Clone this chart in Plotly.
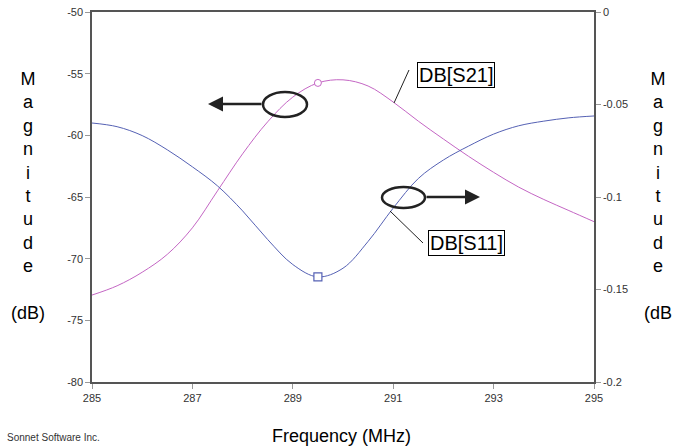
import plotly.graph_objects as go

freq = [285.0, 285.5, 286.0, 286.5, 287.0, 287.5, 288.0, 288.5, 289.0, 289.5, 290.0,
        290.5, 291.0, 291.5, 292.0, 292.5, 293.0, 293.5, 294.0, 294.5, 295.0]
s21_db = [-72.95, -72.2, -71.1, -69.65, -67.5, -64.5, -61.5, -58.9, -56.9, -55.75, -55.5,
          -56.0, -57.3, -58.85, -60.3, -61.7, -63.0, -64.2, -65.2, -66.1, -67.0]
s11_db = [-0.0600, -0.0620, -0.0668, -0.0745, -0.0837, -0.0940, -0.1075, -0.1230, -0.1365, -0.1432, -0.1385,
          -0.1240, -0.1060, -0.0900, -0.0800, -0.0725, -0.0660, -0.0615, -0.0590, -0.0572, -0.0562]
marker_freq = [289.5]
s21_marker = [-55.75]
s11_marker = [-0.1432]

x_ticks = [285, 287, 289, 291, 293, 295]
y1_ticks = [-50, -55, -60, -65, -70, -75, -80]
y1_text = ["-50", "-55", "-60", "-65", "-70", "-75", "-80"]
y2_ticks = [0, -0.05, -0.1, -0.15, -0.2]
y2_text = ["0", "-0.05", "-0.1", "-0.15", "-0.2"]

PINK = "#c466c4"
BLUE = "#5561b4"
FONT = "Arial, Liberation Sans, sans-serif"

# plot-area geometry (pixels) for placing decorations
L, R, T, B = 92, 594, 12, 382
def px(xp):
    return 285 + (xp - L) / (R - L) * 10
def py(yp):
    return -50 - (yp - T) / (B - T) * 30
def dx(xp):
    return (xp - L) / (R - L)
def dy(yp):
    return (B - yp) / (B - T)

fig = go.Figure()
fig.add_trace(go.Scatter(x=freq, y=s21_db, mode="lines", line=dict(color=PINK, width=1, shape="spline"),
                         showlegend=False, yaxis="y"))
fig.add_trace(go.Scatter(x=freq, y=s11_db, mode="lines", line=dict(color=BLUE, width=1, shape="spline"),
                         showlegend=False, yaxis="y2"))
fig.add_trace(go.Scatter(x=marker_freq, y=s21_marker, mode="markers",
                         marker=dict(symbol="circle", size=7, color="white", line=dict(color=PINK, width=1)),
                         showlegend=False, yaxis="y"))
fig.add_trace(go.Scatter(x=marker_freq, y=s11_marker, mode="markers",
                         marker=dict(symbol="square", size=8, color="white", line=dict(color=BLUE, width=1.2)),
                         showlegend=False, yaxis="y2"))

shapes = []
# ellipses
shapes.append(dict(type="circle", xref="x", yref="y", x0=px(263), x1=px(307), y0=py(92), y1=py(117),
                   line=dict(color="#222", width=2.5)))
shapes.append(dict(type="circle", xref="x", yref="y", x0=px(382), x1=px(425), y0=py(187), y1=py(208),
                   line=dict(color="#222", width=2.5)))
# leader lines
shapes.append(dict(type="line", xref="x", yref="y", x0=px(394), y0=py(103), x1=px(409), y1=py(70),
                   line=dict(color="#222", width=1)))
shapes.append(dict(type="line", xref="x", yref="y", x0=px(390), y0=py(211), x1=px(423), y1=py(243),
                   line=dict(color="#222", width=1)))

vert = "M<br>a<br>g<br>n<br>i<br>t<br>u<br>d<br>e<br><br>"
annotations = [
    dict(x=px(456), y=py(75), xref="x", yref="y", text="DB[S21]", showarrow=False,
         font=dict(family=FONT, size=20, color="black"), bordercolor="black", borderwidth=1,
         borderpad=1, bgcolor="white"),
    dict(x=px(466), y=py(243), xref="x", yref="y", text="DB[S11]", showarrow=False,
         font=dict(family=FONT, size=20, color="black"), bordercolor="black", borderwidth=1,
         borderpad=1, bgcolor="white"),
    # arrows
    dict(x=px(208), y=py(104), xref="x", yref="y", ax=px(263), ay=py(104), axref="x", ayref="y",
         text="", showarrow=True, arrowhead=2, arrowsize=1.2, arrowwidth=2.5, arrowcolor="#222"),
    dict(x=px(480), y=py(197), xref="x", yref="y", ax=px(425), ay=py(197), axref="x", ayref="y",
         text="", showarrow=True, arrowhead=2, arrowsize=1.2, arrowwidth=2.5, arrowcolor="#222"),
    dict(x=dx(28), y=dy(196), xref="x domain", yref="y domain", text=vert + "(dB)", showarrow=False,
         xanchor="center", yanchor="middle", align="center",
         font=dict(family=FONT, size=18, color="black")),
    dict(x=dx(658), y=dy(196), xref="x domain", yref="y domain", text=vert + "(dB", showarrow=False,
         xanchor="center", yanchor="middle", align="center",
         font=dict(family=FONT, size=18, color="black")),
    dict(x=dx(5), y=dy(437), xref="x domain", yref="y domain", text="Sonnet Software Inc.",
         showarrow=False, xanchor="left", yanchor="middle", font=dict(family=FONT, size=10, color="#333")),
    dict(x=dx(341), y=dy(436), xref="x domain", yref="y domain", text="Frequency (MHz)",
         showarrow=False, xanchor="center", yanchor="middle", font=dict(family=FONT, size=18, color="black")),
]

axis_common = dict(showgrid=False, zeroline=False, ticks="outside", ticklen=5, tickcolor="#999",
                   tickfont=dict(family=FONT, size=11, color="#333"), showline=True,
                   linecolor="#555", linewidth=1.5, automargin=False)

fig.update_layout(
    width=681, height=446,
    margin=dict(l=L, r=681 - R, t=T, b=446 - B, autoexpand=False),
    paper_bgcolor="white", plot_bgcolor="white",
    xaxis=dict(range=[285, 295], tickvals=x_ticks, ticktext=[str(v) for v in x_ticks], mirror=True,
               **axis_common),
    yaxis=dict(range=[-80, -50], tickvals=y1_ticks, ticktext=y1_text, mirror=True, **axis_common),
    yaxis2=dict(range=[-0.2, 0], tickvals=y2_ticks, ticktext=y2_text, overlaying="y", side="right",
                **axis_common),
    shapes=shapes,
    annotations=annotations,
)

fig.write_html("out.html")
